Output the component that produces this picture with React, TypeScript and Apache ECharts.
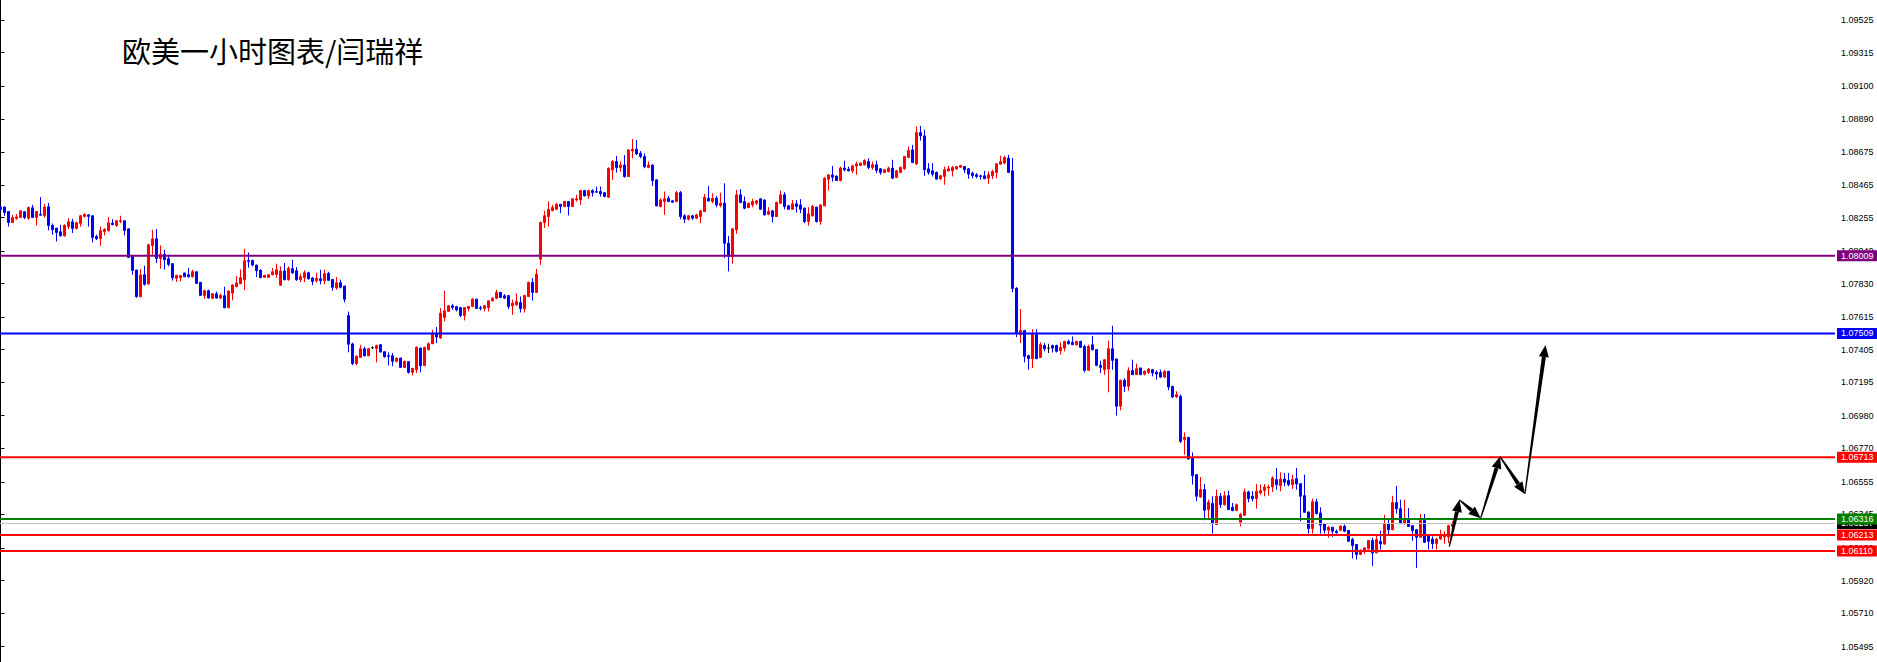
import React, { useEffect, useRef } from "react";
import * as echarts from "echarts";

// ---------- data (EURUSD H1 candles) ----------
const opens = [
  1.08322,1.08322,1.08294,1.08223,1.08249,1.08255,1.08292,1.08251,1.08317,1.08255,
  1.08274,1.08266,1.08324,1.08204,1.08187,1.08163,1.08137,1.08197,1.08227,1.08185,
  1.08217,1.08262,1.08272,1.08266,1.08133,1.08120,1.08165,1.08170,1.08219,1.08204,
  1.08229,1.08234,1.08182,1.08005,1.07917,1.07746,1.07887,1.07827,1.08075,1.08118,
  1.07992,1.08018,1.07990,1.07958,1.07864,1.07868,1.07898,1.07887,1.07874,1.07906,
  1.07838,1.07754,1.07784,1.07735,1.07765,1.07737,1.07752,1.07675,1.07769,1.07810,
  1.07829,1.07855,1.07979,1.07979,1.07949,1.07915,1.07870,1.07870,1.07887,1.07889,
  1.07819,1.07911,1.07855,1.07926,1.07913,1.07855,1.07868,1.07900,1.07866,1.07849,
  1.07861,1.07849,1.07896,1.07857,1.07802,1.07836,1.07814,1.07624,1.07442,1.07316,
  1.07355,1.07411,1.07366,1.07417,1.07413,1.07437,1.07392,1.07366,1.07366,1.07330,
  1.07351,1.07291,1.07328,1.07259,1.07276,1.07415,1.07302,1.07405,1.07443,1.07511,
  1.07480,1.07612,1.07651,1.07687,1.07681,1.07676,1.07625,1.07670,1.07683,1.07730,
  1.07674,1.07670,1.07676,1.07719,1.07736,1.07773,1.07751,1.07753,1.07687,1.07694,
  1.07708,1.07668,1.07747,1.07837,1.07773,1.07987,1.08223,1.08261,1.08300,1.08308,
  1.08340,1.08326,1.08358,1.08326,1.08368,1.08368,1.08428,1.08394,1.08428,1.08422,
  1.08422,1.08415,1.08385,1.08561,1.08615,1.08576,1.08593,1.08518,1.08683,1.08694,
  1.08668,1.08647,1.08576,1.08593,1.08497,1.08326,1.08358,1.08379,1.08362,1.08358,
  1.08415,1.08266,1.08244,1.08266,1.08251,1.08261,1.08294,1.08379,1.08358,1.08379,
  1.08332,1.08347,1.08090,1.08005,1.08176,1.08401,1.08358,1.08319,1.08336,1.08347,
  1.08375,1.08368,1.08276,1.08298,1.08261,1.08347,1.08401,1.08330,1.08308,1.08343,
  1.08336,1.08315,1.08229,1.08266,1.08321,1.08229,1.08330,1.08501,1.08529,1.08522,
  1.08493,1.08573,1.08566,1.08555,1.08587,1.08590,1.08594,1.08615,1.08577,1.08594,
  1.08568,1.08545,1.08551,1.08573,1.08513,1.08545,1.08568,1.08641,1.08690,1.08600,
  1.08801,1.08780,1.08568,1.08555,1.08545,1.08504,1.08519,1.08555,1.08555,1.08568,
  1.08579,1.08583,1.08568,1.08540,1.08530,1.08523,1.08523,1.08508,1.08523,1.08545,
  1.08598,1.08605,1.08637,1.08555,1.07800,1.07501,1.07529,1.07366,1.07347,1.07501,
  1.07355,1.07432,1.07415,1.07432,1.07432,1.07398,1.07415,1.07458,1.07452,1.07437,
  1.07458,1.07426,1.07272,1.07437,1.07405,1.07304,1.07276,1.07280,1.07411,1.07345,
  1.07041,1.07208,1.07169,1.07270,1.07244,1.07287,1.07248,1.07259,1.07276,1.07259,
  1.07259,1.07229,1.07266,1.07169,1.07101,1.07105,1.06826,1.06841,1.06708,1.06601,
  1.06458,1.06505,1.06376,1.06415,1.06280,1.06462,1.06408,1.06466,1.06391,1.06372,
  1.06295,1.06340,1.06490,1.06462,1.06447,1.06483,1.06500,1.06515,1.06522,1.06569,
  1.06530,1.06573,1.06563,1.06537,1.06575,1.06543,1.06466,1.06361,1.06254,1.06426,
  1.06355,1.06284,1.06244,1.06263,1.06237,1.06244,1.06269,1.06242,1.06184,1.06152,
  1.06088,1.06109,1.06124,1.06177,1.06098,1.06172,1.06155,1.06286,1.06247,1.06422,
  1.06382,1.06286,1.06315,1.06273,1.06247,1.06198,1.06307,1.06208,1.06187,1.06157,
  1.06187,1.06200,1.06200,1.06268,
];

const closes = [
  1.08304,1.08287,1.08223,1.08255,1.08259,1.08298,1.08255,1.08319,1.08255,1.08294,
  1.08270,1.08322,1.08204,1.08176,1.08159,1.08137,1.08204,1.08227,1.08185,1.08221,
  1.08266,1.08274,1.08262,1.08127,1.08118,1.08170,1.08178,1.08221,1.08210,1.08234,
  1.08234,1.08172,1.07998,1.07915,1.07746,1.07885,1.07825,1.08080,1.08118,1.07992,
  1.08018,1.07983,1.07953,1.07868,1.07883,1.07881,1.07874,1.07874,1.07906,1.07831,
  1.07754,1.07784,1.07737,1.07765,1.07737,1.07754,1.07675,1.07782,1.07821,1.07834,
  1.07868,1.07977,1.07973,1.07949,1.07913,1.07868,1.07883,1.07887,1.07906,1.07919,
  1.07911,1.07855,1.07928,1.07898,1.07855,1.07874,1.07900,1.07861,1.07844,1.07864,
  1.07849,1.07894,1.07851,1.07806,1.07836,1.07806,1.07729,1.07440,1.07316,1.07363,
  1.07411,1.07366,1.07411,1.07417,1.07432,1.07390,1.07360,1.07362,1.07330,1.07349,
  1.07291,1.07330,1.07259,1.07285,1.07420,1.07302,1.07420,1.07443,1.07511,1.07486,
  1.07640,1.07655,1.07687,1.07676,1.07661,1.07625,1.07676,1.07683,1.07730,1.07670,
  1.07670,1.07687,1.07719,1.07736,1.07773,1.07741,1.07736,1.07683,1.07704,1.07715,
  1.07668,1.07753,1.07837,1.07773,1.07890,1.08223,1.08266,1.08308,1.08319,1.08340,
  1.08326,1.08358,1.08326,1.08375,1.08375,1.08428,1.08394,1.08428,1.08415,1.08418,
  1.08407,1.08390,1.08572,1.08615,1.08576,1.08593,1.08518,1.08689,1.08694,1.08664,
  1.08647,1.08582,1.08593,1.08493,1.08330,1.08368,1.08375,1.08358,1.08353,1.08415,
  1.08261,1.08244,1.08266,1.08251,1.08272,1.08298,1.08385,1.08362,1.08379,1.08336,
  1.08347,1.08090,1.08005,1.08182,1.08401,1.08351,1.08315,1.08347,1.08358,1.08362,
  1.08308,1.08272,1.08294,1.08261,1.08351,1.08401,1.08326,1.08308,1.08343,1.08326,
  1.08308,1.08229,1.08279,1.08326,1.08229,1.08336,1.08507,1.08529,1.08514,1.08493,
  1.08573,1.08562,1.08555,1.08587,1.08600,1.08605,1.08622,1.08577,1.08594,1.08558,
  1.08545,1.08562,1.08573,1.08508,1.08555,1.08577,1.08647,1.08686,1.08609,1.08801,
  1.08780,1.08562,1.08545,1.08534,1.08502,1.08523,1.08562,1.08568,1.08577,1.08583,
  1.08590,1.08562,1.08534,1.08525,1.08519,1.08519,1.08504,1.08530,1.08551,1.08600,
  1.08615,1.08641,1.08545,1.07798,1.07512,1.07529,1.07362,1.07347,1.07505,1.07347,
  1.07437,1.07411,1.07415,1.07415,1.07394,1.07420,1.07458,1.07443,1.07437,1.07458,
  1.07420,1.07272,1.07426,1.07405,1.07304,1.07291,1.07340,1.07411,1.07336,1.07041,
  1.07208,1.07169,1.07270,1.07244,1.07283,1.07244,1.07266,1.07280,1.07255,1.07248,
  1.07229,1.07266,1.07165,1.07101,1.07116,1.06815,1.06841,1.06702,1.06595,1.06462,
  1.06505,1.06372,1.06423,1.06287,1.06462,1.06408,1.06466,1.06376,1.06370,1.06408,
  1.06344,1.06490,1.06447,1.06447,1.06494,1.06498,1.06522,1.06522,1.06580,1.06537,
  1.06573,1.06552,1.06537,1.06569,1.06541,1.06462,1.06359,1.06254,1.06426,1.06351,
  1.06276,1.06244,1.06263,1.06237,1.06227,1.06269,1.06237,1.06173,1.06145,1.06088,
  1.06115,1.06130,1.06177,1.06098,1.06184,1.06155,1.06286,1.06247,1.06422,1.06382,
  1.06286,1.06315,1.06268,1.06241,1.06198,1.06307,1.06166,1.06172,1.06157,1.06187,
  1.06215,1.06215,1.06273,1.06287,
];

const lows = [
  1.08300,1.08266,1.08197,1.08223,1.08240,1.08253,1.08244,1.08240,1.08253,1.08204,
  1.08266,1.08255,1.08172,1.08144,1.08101,1.08133,1.08133,1.08180,1.08155,1.08178,
  1.08197,1.08255,1.08197,1.08095,1.08110,1.08073,1.08140,1.08165,1.08204,1.08195,
  1.08219,1.08140,1.07996,1.07887,1.07739,1.07742,1.07816,1.07823,1.08016,1.07962,
  1.07926,1.07919,1.07941,1.07849,1.07840,1.07844,1.07872,1.07868,1.07870,1.07829,
  1.07752,1.07731,1.07735,1.07733,1.07733,1.07731,1.07671,1.07673,1.07722,1.07806,
  1.07827,1.07787,1.07932,1.07941,1.07872,1.07866,1.07868,1.07868,1.07883,1.07866,
  1.07816,1.07851,1.07849,1.07894,1.07847,1.07840,1.07840,1.07855,1.07819,1.07836,
  1.07825,1.07825,1.07849,1.07784,1.07791,1.07799,1.07709,1.07388,1.07305,1.07305,
  1.07353,1.07360,1.07362,1.07409,1.07323,1.07387,1.07353,1.07304,1.07298,1.07323,
  1.07289,1.07287,1.07251,1.07240,1.07255,1.07259,1.07300,1.07400,1.07441,1.07447,
  1.07475,1.07587,1.07647,1.07661,1.07651,1.07614,1.07593,1.07651,1.07678,1.07668,
  1.07657,1.07651,1.07651,1.07715,1.07730,1.07738,1.07732,1.07666,1.07629,1.07687,
  1.07644,1.07644,1.07745,1.07721,1.07771,1.07951,1.08187,1.08197,1.08294,1.08304,
  1.08283,1.08321,1.08268,1.08324,1.08358,1.08336,1.08390,1.08375,1.08390,1.08415,
  1.08390,1.08385,1.08383,1.08497,1.08544,1.08550,1.08512,1.08516,1.08636,1.08657,
  1.08636,1.08572,1.08572,1.08458,1.08326,1.08321,1.08272,1.08353,1.08351,1.08353,
  1.08244,1.08219,1.08236,1.08240,1.08244,1.08219,1.08292,1.08358,1.08347,1.08321,
  1.08321,1.07994,1.07908,1.07958,1.08150,1.08347,1.08308,1.08315,1.08321,1.08336,
  1.08304,1.08266,1.08270,1.08223,1.08259,1.08343,1.08308,1.08304,1.08304,1.08287,
  1.08283,1.08219,1.08202,1.08261,1.08223,1.08208,1.08328,1.08428,1.08486,1.08490,
  1.08487,1.08551,1.08551,1.08540,1.08530,1.08587,1.08590,1.08566,1.08562,1.08540,
  1.08530,1.08540,1.08545,1.08502,1.08508,1.08540,1.08562,1.08637,1.08605,1.08594,
  1.08750,1.08523,1.08530,1.08519,1.08498,1.08498,1.08466,1.08551,1.08519,1.08562,
  1.08573,1.08540,1.08504,1.08508,1.08508,1.08498,1.08502,1.08472,1.08502,1.08508,
  1.08594,1.08598,1.08543,1.07774,1.07486,1.07447,1.07323,1.07276,1.07287,1.07345,
  1.07351,1.07394,1.07383,1.07387,1.07387,1.07373,1.07394,1.07437,1.07435,1.07430,
  1.07415,1.07259,1.07270,1.07400,1.07298,1.07255,1.07244,1.07131,1.07276,1.06981,
  1.07015,1.07133,1.07141,1.07242,1.07242,1.07242,1.07240,1.07248,1.07233,1.07212,
  1.07223,1.07223,1.07144,1.07094,1.07094,1.06804,1.06729,1.06697,1.06537,1.06430,
  1.06451,1.06308,1.06323,1.06222,1.06276,1.06387,1.06402,1.06374,1.06366,1.06366,
  1.06269,1.06338,1.06423,1.06430,1.06383,1.06473,1.06462,1.06466,1.06490,1.06505,
  1.06494,1.06526,1.06526,1.06509,1.06505,1.06301,1.06355,1.06222,1.06222,1.06344,
  1.06222,1.06222,1.06195,1.06201,1.06222,1.06237,1.06231,1.06169,1.06062,1.06055,
  1.06083,1.06092,1.06120,1.06013,1.06096,1.06119,1.06151,1.06215,1.06243,1.06350,
  1.06283,1.06279,1.06266,1.06176,1.06001,1.06194,1.06161,1.06119,1.06123,1.06119,
  1.06183,1.06157,1.06161,1.06264,
];

const highs = [
  1.08326,1.08326,1.08294,1.08272,1.08277,1.08300,1.08294,1.08326,1.08337,1.08296,
  1.08386,1.08343,1.08349,1.08217,1.08187,1.08208,1.08212,1.08251,1.08247,1.08229,
  1.08272,1.08283,1.08274,1.08268,1.08144,1.08197,1.08187,1.08257,1.08244,1.08240,
  1.08266,1.08236,1.08184,1.08007,1.07919,1.07923,1.07945,1.08086,1.08176,1.08182,
  1.08075,1.08048,1.08016,1.07960,1.07887,1.07887,1.07900,1.07930,1.07919,1.07908,
  1.07840,1.07791,1.07791,1.07767,1.07778,1.07765,1.07810,1.07786,1.07825,1.07879,
  1.07921,1.08054,1.08030,1.07983,1.07951,1.07923,1.07885,1.07889,1.07930,1.07958,
  1.07941,1.07962,1.07941,1.07983,1.07936,1.07894,1.07915,1.07906,1.07872,1.07900,
  1.07919,1.07919,1.07906,1.07859,1.07872,1.07855,1.07816,1.07650,1.07450,1.07367,
  1.07435,1.07424,1.07415,1.07426,1.07437,1.07439,1.07394,1.07387,1.07383,1.07355,
  1.07353,1.07334,1.07330,1.07287,1.07426,1.07417,1.07424,1.07452,1.07533,1.07550,
  1.07672,1.07783,1.07689,1.07700,1.07687,1.07678,1.07678,1.07687,1.07736,1.07732,
  1.07687,1.07691,1.07721,1.07741,1.07790,1.07777,1.07762,1.07755,1.07726,1.07768,
  1.07747,1.07758,1.07843,1.07865,1.07925,1.08229,1.08298,1.08358,1.08336,1.08347,
  1.08342,1.08362,1.08360,1.08377,1.08401,1.08433,1.08433,1.08433,1.08437,1.08454,
  1.08454,1.08417,1.08578,1.08625,1.08651,1.08615,1.08657,1.08694,1.08760,1.08754,
  1.08683,1.08668,1.08615,1.08595,1.08501,1.08379,1.08422,1.08394,1.08368,1.08426,
  1.08426,1.08276,1.08270,1.08272,1.08279,1.08304,1.08407,1.08458,1.08411,1.08394,
  1.08415,1.08475,1.08137,1.08184,1.08433,1.08437,1.08390,1.08351,1.08375,1.08368,
  1.08377,1.08370,1.08321,1.08304,1.08358,1.08428,1.08418,1.08336,1.08368,1.08368,
  1.08373,1.08319,1.08321,1.08336,1.08326,1.08340,1.08514,1.08535,1.08587,1.08524,
  1.08583,1.08620,1.08583,1.08594,1.08615,1.08609,1.08630,1.08635,1.08615,1.08620,
  1.08573,1.08566,1.08583,1.08626,1.08562,1.08583,1.08652,1.08712,1.08722,1.08840,
  1.08844,1.08819,1.08605,1.08605,1.08551,1.08530,1.08583,1.08587,1.08587,1.08587,
  1.08594,1.08587,1.08573,1.08551,1.08540,1.08530,1.08555,1.08551,1.08562,1.08605,
  1.08652,1.08652,1.08658,1.08637,1.07807,1.07666,1.07531,1.07373,1.07537,1.07537,
  1.07452,1.07447,1.07443,1.07437,1.07437,1.07452,1.07462,1.07469,1.07490,1.07462,
  1.07462,1.07437,1.07437,1.07494,1.07407,1.07334,1.07345,1.07462,1.07559,1.07347,
  1.07212,1.07221,1.07291,1.07340,1.07315,1.07289,1.07272,1.07287,1.07280,1.07272,
  1.07276,1.07272,1.07268,1.07173,1.07137,1.07116,1.06873,1.06843,1.06744,1.06603,
  1.06586,1.06541,1.06441,1.06462,1.06505,1.06483,1.06494,1.06498,1.06419,1.06415,
  1.06355,1.06511,1.06498,1.06494,1.06541,1.06537,1.06541,1.06537,1.06590,1.06644,
  1.06616,1.06612,1.06612,1.06601,1.06644,1.06545,1.06601,1.06363,1.06447,1.06447,
  1.06391,1.06286,1.06269,1.06265,1.06248,1.06276,1.06280,1.06244,1.06195,1.06154,
  1.06120,1.06135,1.06180,1.06195,1.06216,1.06241,1.06343,1.06315,1.06465,1.06529,
  1.06440,1.06440,1.06386,1.06275,1.06249,1.06348,1.06348,1.06210,1.06204,1.06194,
  1.06247,1.06236,1.06279,1.06301,
];

// price-axis tick labels as printed on the right scale
const yTickValues = [
  1.09525, 1.09315, 1.091, 1.0889, 1.08675, 1.08465, 1.08255, 1.0804, 1.0783, 1.07615,
  1.07405, 1.07195, 1.0698, 1.0677, 1.06555, 1.06345, 1.0613, 1.0592, 1.0571, 1.05495,
];

// horizontal levels (first one is the current bid line)
const levelValues = [1.06287, 1.08009, 1.07509, 1.06713, 1.06316, 1.06213, 1.0611];
const levelLineColors = ["#c0c0c0", "#800080", "#0000ff", "#ff0000", "#008000", "#ff0000", "#ff0000"];
const levelTagColors = ["#000000", "#800080", "#0000ff", "#ff0000", "#008000", "#ff0000", "#ff0000"];

// hand-drawn forecast arrows: [bar index, price] vertices
const arrowPoints = [
  [362.2, 1.06138],
  [364.75, 1.06439],
  [370.05, 1.06321],
  [374.9, 1.06717],
  [381.1, 1.06477],
  [386.25, 1.07435],
];

const titleText = "欧美一小时图表/闫瑞祥";

const priceMin = 1.05396;
const priceMax = 1.09654;
const xMin = -0.125;
const xMax = 458.625;

export default function App() {
  const ref = useRef<HTMLDivElement>(null);

  useEffect(() => {
    if (!ref.current) return;
    const chart = echarts.init(ref.current, null, { renderer: "svg" });

    const candleData = opens.map((o, i) => [
      i,
      o,
      closes[i],
      Math.min(lows[i], o, closes[i]),
      Math.max(highs[i], o, closes[i]),
    ]);

    const segments = [];
    for (let k = 0; k < arrowPoints.length - 1; k++) {
      segments.push([arrowPoints[k][0], arrowPoints[k][1], arrowPoints[k + 1][0], arrowPoints[k + 1][1]]);
    }

    const axisFont = "'Liberation Sans', Arial, sans-serif";

    const levelSeries = levelValues.map((v, i) => ({
      type: "line",
      data: [
        [xMin, v],
        [xMax, v],
      ],
      showSymbol: false,
      symbol: "none",
      silent: true,
      clip: false,
      z: 3,
      lineStyle: { color: levelLineColors[i], width: i === 0 ? 1 : 2, type: "solid" },
      endLabel: {
        show: true,
        distance: 2,
        formatter: () => v.toFixed(5),
        color: "#ffffff",
        backgroundColor: levelTagColors[i],
        padding: [1, 4, 1, 4],
        fontSize: 9,
        lineHeight: 9,
        fontFamily: axisFont,
      },
    }));

    chart.setOption({
      animation: false,
      backgroundColor: "#ffffff",
      title: {
        text: titleText,
        left: 117,
        top: 30,
        textStyle: {
          fontSize: 29,
          fontWeight: "normal",
          color: "#000000",
          fontFamily: "'Noto Sans CJK SC', sans-serif",
        },
      },
      grid: { left: 0, right: 42, top: 0, bottom: 0, containLabel: false },
      xAxis: {
        type: "value",
        min: xMin,
        max: xMax,
        show: false,
        splitLine: { show: false },
      },
      yAxis: {
        type: "value",
        position: "right",
        min: priceMin,
        max: priceMax,
        scale: true,
        axisLine: { show: true, lineStyle: { color: "#000000", width: 1 } },
        axisTick: {
          show: true,
          inside: false,
          length: 4,
          customValues: yTickValues,
          lineStyle: { color: "#000000" },
        },
        axisLabel: {
          show: true,
          customValues: yTickValues,
          formatter: (v: number) => v.toFixed(5),
          margin: 6,
          color: "#000000",
          fontSize: 9,
          fontFamily: axisFont,
        },
        splitLine: { show: false },
      },
      series: [
        {
          type: "candlestick",
          data: candleData,
          encode: { x: 0, y: [1, 2, 3, 4] },
          barWidth: 2,
          z: 2,
          itemStyle: {
            color: "#ff0000",
            color0: "#0000ff",
            borderColor: "#ff0000",
            borderColor0: "#0000ff",
            borderColorDoji: "#000000",
            borderWidth: 1,
          },
        },
        ...levelSeries,
        {
          type: "custom",
          coordinateSystem: "cartesian2d",
          silent: true,
          clip: false,
          data: segments,
          encode: { x: [0, 2], y: [1, 3] },
          renderItem: (params: any, api: any) => {
            const s = api.coord([api.value(0), api.value(1)]);
            const e = api.coord([api.value(2), api.value(3)]);
            const dx = e[0] - s[0];
            const dy = e[1] - s[1];
            const len = Math.hypot(dx, dy) || 1;
            const ux = dx / len;
            const uy = dy / len;
            const nx = -uy;
            const ny = ux;
            const headLen = 12;
            const headHalf = 5;
            const w0 = 0.6;
            const w1 = 2;
            const bx = e[0] - ux * headLen;
            const by = e[1] - uy * headLen;
            const shaft = [
              [s[0] + nx * w0, s[1] + ny * w0],
              [bx + nx * w1, by + ny * w1],
              [bx - nx * w1, by - ny * w1],
              [s[0] - nx * w0, s[1] - ny * w0],
            ];
            const head = [
              [e[0], e[1]],
              [bx + nx * headHalf, by + ny * headHalf],
              [bx - nx * headHalf, by - ny * headHalf],
            ];
            return {
              type: "group",
              children: [
                { type: "polygon", shape: { points: shaft }, style: { fill: "#000000" } },
                { type: "polygon", shape: { points: head }, style: { fill: "#000000" } },
              ],
            };
          },
          z: 5,
        },
      ],
    });

    return () => {
      chart.dispose();
    };
  }, []);

  return (
    <div
      ref={ref}
      style={{
        position: "fixed",
        left: 0,
        top: 0,
        width: 1877,
        height: 662,
        background: "#ffffff",
      }}
    />
  );
}
